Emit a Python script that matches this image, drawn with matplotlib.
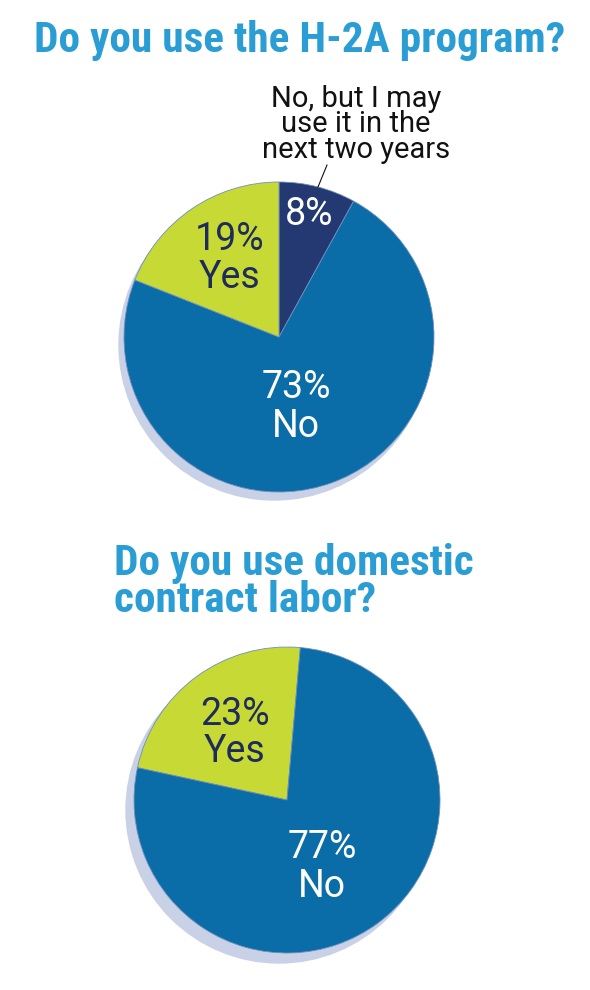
import matplotlib.pyplot as plt
from matplotlib.patches import Circle

# H-2A question
h2a_title = 'Do you use the H-2A program?'
h2a_labels = ['8%', '73%\nNo', '19%\nYes']
h2a_values = [8, 73, 19]
h2a_note = 'No, but I may\nuse it in the\nnext two years'
# domestic contract labor question
dom_title = 'Do you use domestic\ncontract labor?'
dom_labels = ['23%\nYes', '77%\nNo']
dom_values = [23, 77]

blue = '#0a6da7'
navy = '#243872'
lime = '#c6d935'
shadow = '#c9d1e6'
title_col = '#2a9ed4'
dark = '#1f2b5a'

cond = ['Roboto Condensed', 'Liberation Sans Narrow', 'Liberation Sans']
plain = ['Roboto', 'Liberation Sans']

fig = plt.figure(figsize=(5.9, 9.9), dpi=100)
ax = fig.add_axes([0, 0, 1, 1])

H = 990

# pie 1
ax.add_patch(Circle((274, H - 345), 155, color=shadow, zorder=0))
ax.pie(h2a_values, colors=[navy, blue, lime], startangle=90, counterclock=False,
       center=(279, H - 337), radius=155,
       wedgeprops=dict(linewidth=0.6, edgecolor='#6f8fbf'))

# pie 2
ax.add_patch(Circle((279, H - 810), 153, color=shadow, zorder=0))
ax.pie(dom_values, colors=[lime, blue], startangle=85, counterclock=True,
       center=(287, H - 800), radius=153,
       wedgeprops=dict(linewidth=0.6, edgecolor='#6f8fbf'))

ax.set_xlim(0, 590)
ax.set_ylim(0, H)
ax.set_aspect('equal')
ax.axis('off')


def lines(x, y, s, step, **kw):
    # one text per line, y = baseline of first line (pixels from top)
    for i, part in enumerate(s.split('\n')):
        ax.text(x, H - y - i * step, part, va='baseline', **kw)


# titles
tkw = dict(fontsize=31.2, fontweight='bold', color=title_col, family=cond)
lines(300, 52, h2a_title, 0, ha='center', **tkw)
lines(114, 575, dom_title, 37, ha='left', **tkw)

# slice labels
lab = dict(ha='center', fontsize=27, family=plain)
lines(309, 225, h2a_labels[0], 38, color='white', **lab)
lines(296, 398, h2a_labels[1], 39, color='white', **lab)
lines(230, 250, h2a_labels[2], 38, color=dark, **lab)
lines(235, 725, dom_labels[0], 37, color=dark, **lab)
lines(322, 858, dom_labels[1], 39, color='white', **lab)

# callout
lines(356, 107, h2a_note, 25.5, ha='center', fontsize=21,
      color='#111111', family=plain)
ax.plot([318, 327], [H - 187, H - 165], color='#111111', lw=0.8)

fig.savefig('out.png', dpi=100, facecolor='white')
